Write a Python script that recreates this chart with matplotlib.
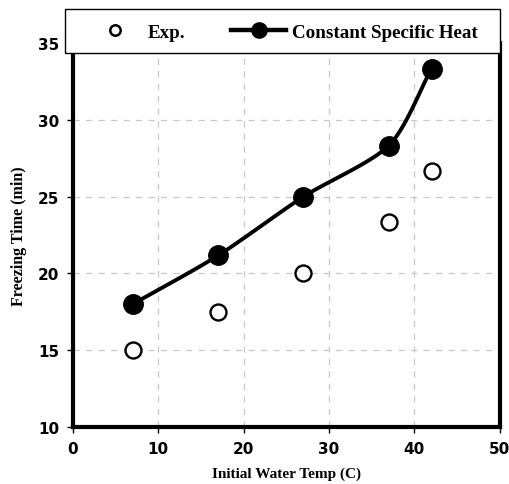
import numpy as np
import matplotlib
matplotlib.use("Agg")
import matplotlib.pyplot as plt
from matplotlib.patches import Rectangle

exp_x = [7, 17, 27, 37, 42]
exp_y = [15.0, 17.5, 20.0, 23.33, 26.67]
csh_x = [7, 17, 27, 37, 42]
csh_y = [18.0, 21.17, 25.0, 28.33, 33.33]
xticks = [0, 10, 20, 30, 40, 50]
yticks = [10, 15, 20, 25, 30, 35]


def catmull(xs, ys, n=30):
    xs = np.asarray(xs, float); ys = np.asarray(ys, float)
    P = np.column_stack([xs, ys])
    P = np.vstack([P[0] - (P[1] - P[0]), P, P[-1] + (P[-1] - P[-2])])
    out = []
    for i in range(1, len(P) - 2):
        p0, p1, p2, p3 = P[i - 1], P[i], P[i + 1], P[i + 2]
        t = np.linspace(0, 1, n)[:, None]
        m1 = (p2 - p0) / 2 * 0.8
        m2 = (p3 - p1) / 2 * 0.8
        h00 = 2*t**3 - 3*t**2 + 1; h10 = t**3 - 2*t**2 + t
        h01 = -2*t**3 + 3*t**2; h11 = t**3 - t**2
        out.append(h00*p1 + h10*m1 + h01*p2 + h11*m2)
    c = np.vstack(out)
    return c[:, 0], c[:, 1]


fig = plt.figure(figsize=(5.1, 4.85), dpi=100)
ax = fig.add_axes([0.143, 0.1175, 0.837, 0.7915])

ax.grid(True, color="#c8c8c8", linestyle=(0, (5, 5)), linewidth=0.9)
ax.set_axisbelow(True)

sx, sy = catmull(csh_x, csh_y)
ax.plot(sx, sy, color="black", linewidth=2.8, zorder=3)
ax.plot(csh_x, csh_y, "o", color="black", markersize=14, zorder=4)
ax.plot(exp_x, exp_y, "o", markerfacecolor="white", markeredgecolor="black",
        markeredgewidth=1.7, markersize=11.5, zorder=4)

ax.set_xlim(0, 50)
ax.set_ylim(10, 35)
ax.set_xticks(xticks)
ax.set_yticks(yticks)
for lab in ax.get_xticklabels() + ax.get_yticklabels():
    lab.set_fontweight("bold")
    lab.set_fontsize(11)
    lab.set_family("DejaVu Sans")
ax.tick_params(direction="out", length=4, width=1, pad=6)
for s in ["left", "bottom", "right"]:
    ax.spines[s].set_linewidth(3)
ax.spines["top"].set_visible(False)

ax.set_xlabel("Initial Water Temp (C)", family="Liberation Serif",
              fontweight="bold", fontsize=11, labelpad=8)
ax.set_ylabel("Freezing Time (min)", family="Liberation Serif",
              fontweight="bold", fontsize=11.5, labelpad=8)

# legend box
box = Rectangle((65 / 510, (485 - 54) / 485), 435 / 510, 44 / 485,
                transform=fig.transFigure, facecolor="white", edgecolor="black",
                linewidth=1.0, zorder=5)
fig.add_artist(box)

h1, = ax.plot([], [], "o", markerfacecolor="white", markeredgecolor="black",
              markeredgewidth=1.8, markersize=7.5)
h2, = ax.plot([], [], "-o", color="black", linewidth=3.2, markersize=11)
leg = fig.legend([h1, h2], ["Exp.", "Constant Specific Heat"], ncol=2,
                 loc="center", bbox_to_anchor=(282.5 / 510, (485 - 33) / 485),
                 frameon=False, borderaxespad=0, handlelength=2.9,
                 handletextpad=0.3, columnspacing=2.4,
                 prop={"family": "Liberation Serif", "weight": "bold", "size": 13.7})
leg.set_zorder(6)

fig.savefig("out.png", dpi=100)
